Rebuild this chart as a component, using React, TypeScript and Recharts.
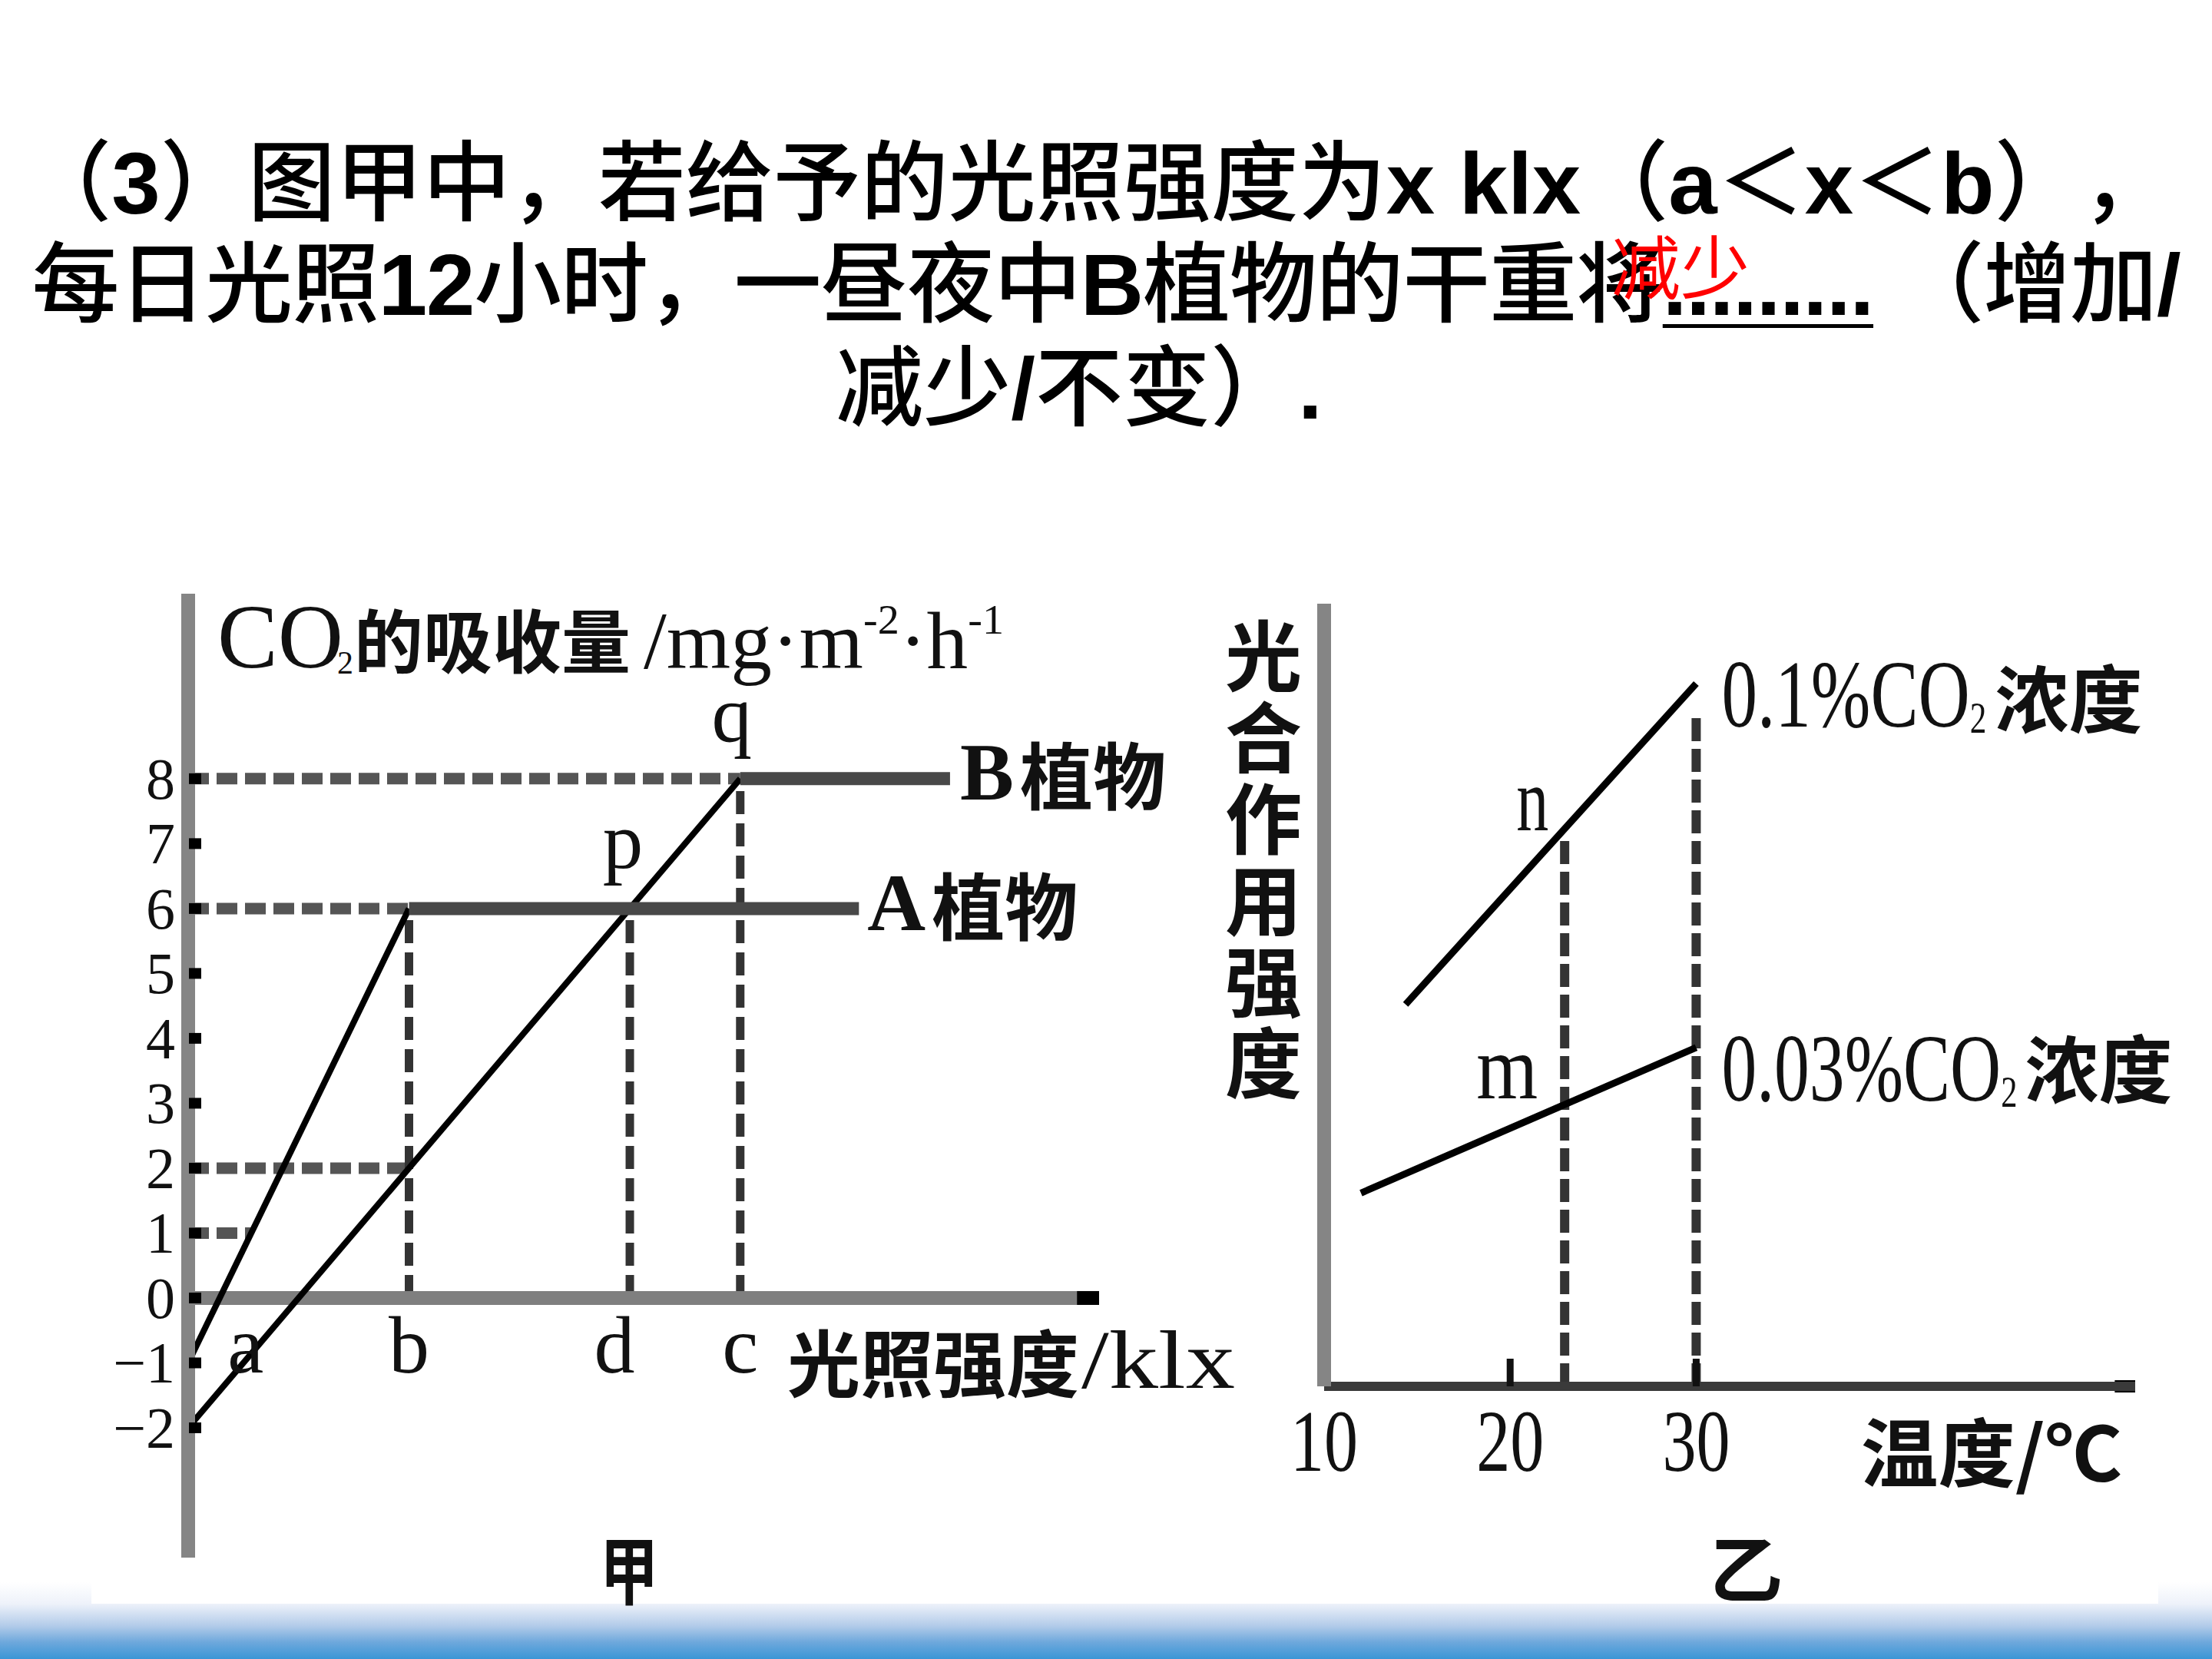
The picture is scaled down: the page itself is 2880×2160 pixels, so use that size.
import React from 'react';
import { LineChart, Line, XAxis, YAxis, ReferenceLine, ReferenceDot } from 'recharts';

const W = 2880;
const H = 2160;

// ---------- 图甲 (light intensity vs CO2 uptake) ----------
const jiaYTicks = [-2, -1, 0, 1, 2, 3, 4, 5, 6, 7, 8];
const jiaXDomain: [number, number] = [0, 16.5];
const jiaYDomain: [number, number] = [-4, 10.85];
const plantASlope = [{ x: 0, y: -1 }, { x: 4, y: 6 }];
const plantAPlateau = [{ x: 4, y: 6 }, { x: 12.15, y: 6 }];
const plantBSlope = [{ x: 0, y: -2 }, { x: 10, y: 8 }];
const plantBPlateau = [{ x: 10, y: 8 }, { x: 13.8, y: 8 }];
const jiaGuidesH = [
  { y: 8, from: 0, to: 10 },
  { y: 6, from: 0, to: 4 },
  { y: 2, from: 0, to: 4 },
  { y: 1, from: 0, to: 1.14 },
];
const jiaGuidesV = [
  { x: 4, from: 0, to: 6 },
  { x: 8, from: 0, to: 6 },
  { x: 10, from: 0, to: 8 },
];
const lightLetters = [
  { text: 'a', x: 1.04 },
  { text: 'b', x: 4 },
  { text: 'd', x: 7.72 },
  { text: 'c', x: 10 },
];
const pointP = { x: 8, y: 6 };
const pointQ = { x: 10, y: 8 };

// ---------- 图乙 (temperature vs photosynthesis) ----------
const yiXDomain: [number, number] = [10, 53.6];
const yiYDomain: [number, number] = [0, 10];
const tempTicks = [10, 20, 30];
const co2High = [{ x: 14.38, y: 4.88 }, { x: 30, y: 8.98 }];
const co2Low = [{ x: 11.98, y: 2.47 }, { x: 30, y: 4.33 }];
const yiGuides = [
  { x: 22.93, to: 7.0 },
  { x: 30, to: 8.6 },
];
const pointN = { x: 22.93, y: 7.12 };
const pointM = { x: 22.93, y: 3.6 };
const yiTitleChars = ['光', '合', '作', '用', '强', '度'];

const SERIF = "'Liberation Serif', 'DejaVu Serif', serif";
const CJK = "'Noto Sans CJK SC', 'Noto Sans CJK JP', sans-serif";
const INK = '#111';

const textAt = (key: string, x: number, y: number, render: (cx: number, cy: number) => React.ReactNode) => (
  <ReferenceDot
    key={key}
    x={x}
    y={y}
    r={1}
    ifOverflow="visible"
    shape={(p: any) => <g>{render(p.cx, p.cy)}</g>}
  />
);

const JiaTick = (props: any) => {
  const { x, y, payload } = props;
  const v = payload.value as number;
  const label = v < 0 ? `−${Math.abs(v)}` : String(v);
  return (
    <g>
      <text x={x} y={y} textAnchor="end" dominantBaseline="central" fontFamily={SERIF} fontSize={76} fill={INK}>
        {label}
      </text>
      <line x1={x + 18} x2={x + 34} y1={y} y2={y} stroke="#000" strokeWidth={14} />
    </g>
  );
};

const YiTick = (props: any) => {
  const { x, y, payload } = props;
  const isOrigin = payload.value === yiXDomain[0];
  return (
    <g>
      {!isOrigin && <line x1={x} x2={x} y1={y - 36} y2={y} stroke="#111" strokeWidth={9} />}
      <text
        x={x}
        y={y + 110}
        textAnchor="middle"
        fontFamily={SERIF}
        fontSize={115}
        fill={INK}
        textLength={88}
        lengthAdjust="spacingAndGlyphs"
      >
        {payload.value}
      </text>
    </g>
  );
};

const B = ({ children }: { children: React.ReactNode }) => <span style={{ fontWeight: 700 }}>{children}</span>;

const titleBase: React.CSSProperties = {
  position: 'absolute',
  width: W,
  height: 132,
  textAlign: 'center',
  fontSize: 114,
  lineHeight: '132px',
  fontFamily: "'Liberation Sans', 'Noto Sans CJK SC', sans-serif",
  fontWeight: 500,
  color: '#000',
  whiteSpace: 'nowrap',
  ...({ textSpacingTrim: 'space-all' } as any),
};

const JiaChart = () => (
  <LineChart width={W} height={H} margin={{ top: 773, right: 1449, bottom: 132, left: 185 }}>
    <XAxis type="number" dataKey="x" domain={jiaXDomain} allowDataOverflow hide />
    <YAxis
      type="number"
      domain={jiaYDomain}
      allowDataOverflow
      ticks={jiaYTicks}
      interval={0}
      width={60}
      tickSize={0}
      tickMargin={17}
      tickLine={false}
      axisLine={{ stroke: '#858585', strokeWidth: 18 }}
      tick={(p: any) => <JiaTick {...p} />}
    />
    {jiaGuidesH.map((g) => (
      <ReferenceLine
        key={'h' + g.y}
        segment={[{ x: g.from, y: g.y }, { x: g.to, y: g.y }]}
        stroke="#555"
        strokeWidth={15}
        strokeDasharray="27 10"
      />
    ))}
    {jiaGuidesV.map((g) => (
      <ReferenceLine
        key={'v' + g.x}
        segment={[{ x: g.x, y: g.from }, { x: g.x, y: g.to }]}
        stroke="#333"
        strokeWidth={11}
        strokeDasharray="30 12"
      />
    ))}
    <ReferenceLine y={0} stroke="#7f7f7f" strokeWidth={18} />
    <ReferenceLine segment={[{ x: 16.1, y: 0 }, { x: 16.5, y: 0 }]} stroke="#000" strokeWidth={18} />
    <ReferenceLine segment={[{ x: 0, y: 10.85 }, { x: 0, y: 10.5 }]} stroke="#000" strokeWidth={18} />
    <Line data={plantASlope} dataKey="y" type="linear" stroke="#000" strokeWidth={8} dot={false} activeDot={false} isAnimationActive={false} />
    <Line data={plantBSlope} dataKey="y" type="linear" stroke="#000" strokeWidth={8} dot={false} activeDot={false} isAnimationActive={false} />
    <Line data={plantAPlateau} dataKey="y" type="linear" stroke="#484848" strokeWidth={17} dot={false} activeDot={false} isAnimationActive={false} />
    <Line data={plantBPlateau} dataKey="y" type="linear" stroke="#484848" strokeWidth={17} dot={false} activeDot={false} isAnimationActive={false} />

    {/* axis title */}
    {textAt('ytitle', 0, jiaYDomain[1], (cx, cy) => (
      <g fill={INK}>
        <text x={cx + 38} y={cy + 96} fontFamily={SERIF} fontSize={118}>CO</text>
        <text x={cx + 194} y={cy + 104} fontFamily={SERIF} fontSize={42}>2</text>
        <text x={cx + 216} y={cy + 57} fontFamily={CJK} fontWeight={700} fontSize={90} dominantBaseline="central">的吸收量</text>
        <text x={cx + 593} y={cy + 97} fontFamily={SERIF} fontSize={105} textLength={469} lengthAdjust="spacingAndGlyphs">
          /mg·m<tspan fontSize={55} dy={-45}>-2</tspan>
          <tspan fontSize={105} dy={45}>·h</tspan>
          <tspan fontSize={55} dy={-45}>-1</tspan>
        </text>
      </g>
    ))}
    {textAt('q', pointQ.x, pointQ.y, (cx, cy) => (
      <text x={cx - 11} y={cy - 49} textAnchor="middle" fontFamily={SERIF} fontSize={105} fill={INK}>q</text>
    ))}
    {textAt('p', pointP.x, pointP.y, (cx, cy) => (
      <text x={cx - 9} y={cy - 53} textAnchor="middle" fontFamily={SERIF} fontSize={105} fill={INK}>p</text>
    ))}
    {textAt('bname', plantBPlateau[1].x, plantBPlateau[1].y, (cx, cy) => (
      <text x={cx + 13} y={cy - 9} dominantBaseline="central" fill={INK}>
        <tspan fontFamily={SERIF} fontWeight={700} fontSize={105}>B</tspan>
        <tspan dx={8} fontFamily={CJK} fontWeight={700} fontSize={95}>植物</tspan>
      </text>
    ))}
    {textAt('aname', plantAPlateau[1].x, plantAPlateau[1].y, (cx, cy) => (
      <text x={cx + 11} y={cy - 8} dominantBaseline="central" fill={INK}>
        <tspan fontFamily={SERIF} fontWeight={700} fontSize={105}>A</tspan>
        <tspan dx={8} fontFamily={CJK} fontWeight={700} fontSize={95}>植物</tspan>
      </text>
    ))}
    {lightLetters.map((l) =>
      textAt('lx' + l.text, l.x, 0, (cx, cy) => (
        <text x={cx} y={cy + 97} textAnchor="middle" fontFamily={SERIF} fontSize={106} fill={INK}>{l.text}</text>
      ))
    )}
    {textAt('xtitle', jiaXDomain[1], 0, (cx, cy) => (
      <g fill={INK}>
        <text x={cx - 406} y={cy + 81} dominantBaseline="central" fontFamily={CJK} fontWeight={700} fontSize={95}>光照强度</text>
        <text x={cx - 23} y={cy + 117} fontFamily={SERIF} fontSize={108} textLength={200} lengthAdjust="spacingAndGlyphs">/klx</text>
      </g>
    ))}
    {textAt('jia', 8, jiaYDomain[0], (cx, cy) => (
      <text x={cx - 1} y={cy + 11} textAnchor="middle" dominantBaseline="central" fontFamily={CJK} fontWeight={700} fontSize={96} fill={INK} textLength={76} lengthAdjust="spacingAndGlyphs">甲</text>
    ))}
  </LineChart>
);

const YiChart = () => (
  <LineChart width={W} height={H} margin={{ top: 786, right: 100, bottom: 325, left: 1664 }}>
    <XAxis
      type="number"
      dataKey="x"
      domain={yiXDomain}
      allowDataOverflow
      ticks={tempTicks}
      interval={0}
      height={30}
      tickSize={0}
      tickMargin={0}
      tickLine={false}
      axisLine={{ stroke: '#3a3a3a', strokeWidth: 12 }}
      tick={(p: any) => <YiTick {...p} />}
    />
    <YAxis
      type="number"
      domain={yiYDomain}
      allowDataOverflow
      width={60}
      tick={false}
      tickLine={false}
      axisLine={{ stroke: '#858585', strokeWidth: 18 }}
    />
    {yiGuides.map((g) => (
      <ReferenceLine
        key={'g' + g.x}
        segment={[{ x: g.x, y: 0 }, { x: g.x, y: g.to }]}
        stroke="#333"
        strokeWidth={12}
        strokeDasharray="30 10"
      />
    ))}
    <ReferenceLine segment={[{ x: 10, y: 10 }, { x: 10, y: 9.75 }]} stroke="#000" strokeWidth={18} ifOverflow="visible" />
    <ReferenceLine segment={[{ x: 52.5, y: 0 }, { x: 53.6, y: 0 }]} stroke="#000" strokeWidth={16} ifOverflow="visible" />
    <Line data={co2High} dataKey="y" type="linear" stroke="#000" strokeWidth={9} dot={false} activeDot={false} isAnimationActive={false} />
    <Line data={co2Low} dataKey="y" type="linear" stroke="#000" strokeWidth={9} dot={false} activeDot={false} isAnimationActive={false} />

    {textAt('n', pointN.x, pointN.y, (cx, cy) => (
      <text x={cx - 21} y={cy + 2} textAnchor="end" fontFamily={SERIF} fontSize={118} fill={INK} textLength={42} lengthAdjust="spacingAndGlyphs">n</text>
    ))}
    {textAt('m', pointM.x, pointM.y, (cx, cy) => (
      <text x={cx - 35} y={cy - 8} textAnchor="end" fontFamily={SERIF} fontSize={118} fill={INK} textLength={80} lengthAdjust="spacingAndGlyphs">m</text>
    ))}
    {textAt('hi', co2High[1].x, co2High[1].y, (cx, cy) => (
      <g fill={INK}>
        <text x={cx + 33} y={cy + 56} fontFamily={SERIF} fontSize={125} textLength={345} lengthAdjust="spacingAndGlyphs">
          0.1%CO<tspan fontSize={58} dy={8}>2</tspan>
        </text>
        <text x={cx + 389} y={cy + 15} dominantBaseline="central" fontFamily={CJK} fontWeight={700} fontSize={96}>浓度</text>
      </g>
    ))}
    {textAt('lo', co2Low[1].x, co2Low[1].y, (cx, cy) => (
      <g fill={INK}>
        <text x={cx + 33} y={cy + 69} fontFamily={SERIF} fontSize={125} textLength={385} lengthAdjust="spacingAndGlyphs">
          0.03%CO<tspan fontSize={58} dy={8}>2</tspan>
        </text>
        <text x={cx + 428} y={cy + 23} dominantBaseline="central" fontFamily={CJK} fontWeight={700} fontSize={96}>浓度</text>
      </g>
    ))}
    {textAt('ytitle2', yiXDomain[0], yiYDomain[1], (cx, cy) => (
      <g fill={INK}>
        {yiTitleChars.map((ch, i) => (
          <text key={ch + i} x={cx - 79} y={cy + 62 + i * 106} textAnchor="middle" dominantBaseline="central" fontFamily={CJK} fontWeight={700} fontSize={100}>
            {ch}
          </text>
        ))}
      </g>
    ))}
    {textAt('xtitle2', yiXDomain[1], 0, (cx, cy) => (
      <text x={cx - 357} y={cy + 80} dominantBaseline="central" fontFamily={CJK} fontWeight={700} fontSize={97} fill={INK} textLength={340} lengthAdjust="spacingAndGlyphs">温度/℃</text>
    ))}
    {textAt('yi', 30, 0, (cx, cy) => (
      <text x={cx + 65} y={cy + 232} textAnchor="middle" dominantBaseline="central" fontFamily={CJK} fontWeight={700} fontSize={96} fill={INK}>乙</text>
    ))}
  </LineChart>
);

export default function App() {
  return (
    <div style={{ position: 'absolute', left: 0, top: 0, width: W, height: H, background: '#fff', overflow: 'hidden' }}>
      {/* bottom gradient band */}
      <div
        style={{
          position: 'absolute',
          left: 0,
          top: 2060,
          width: W,
          height: 100,
          background: 'linear-gradient(to bottom, #ffffff 0%, #eef2fa 28%, #b2cbe9 57%, #6ea8dc 78%, #3a96d6 100%)',
        }}
      />
      <div style={{ position: 'absolute', left: 119, top: 2030, width: 2691, height: 58, background: '#fff' }} />

      {/* title */}
      <div style={{ ...titleBase, left: -12, top: 173 }}>
        （<B>3</B>）图甲中，若给予的光照强度为<B>x klx</B>（<B>a</B>＜<B>x</B>＜<B>b</B>），
      </div>
      <div style={{ ...titleBase, left: 0, top: 305, letterSpacing: '-1.2px' }}>
        每日光照<B>12</B>小时，一昼夜中<B>B</B>植物的干重将
        <span style={{ fontWeight: 700, textDecoration: 'underline', textDecorationThickness: '5px', textUnderlineOffset: '12px' }}>.........</span>
        <B> </B>（增加<B>/</B>
      </div>
      <div style={{ ...titleBase, left: -35, top: 440 }}>
        减少<B>/</B>不变）<B>.</B>
      </div>
      <div
        style={{
          position: 'absolute',
          left: 2098,
          top: 298,
          fontSize: 90,
          lineHeight: '90px',
          fontFamily: CJK,
          color: '#ff0000',
          whiteSpace: 'nowrap',
        }}
      >
        减少
      </div>

      <div style={{ position: 'absolute', left: 0, top: 0 }}>
        <JiaChart />
      </div>
      <div style={{ position: 'absolute', left: 0, top: 0 }}>
        <YiChart />
      </div>
    </div>
  );
}
